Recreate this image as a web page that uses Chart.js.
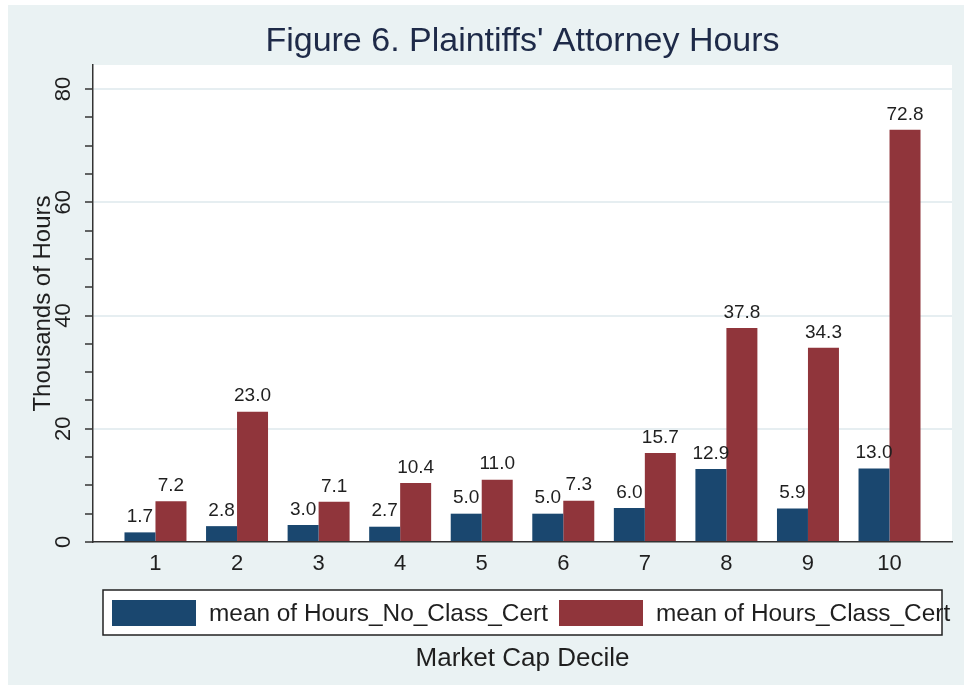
<!DOCTYPE html>
<html>
<head>
<meta charset="utf-8">
<title>Figure 6. Plaintiffs' Attorney Hours</title>
<script src="https://cdn.jsdelivr.net/npm/chart.js@4.4.1/dist/chart.umd.min.js"></script>
<style>
    html, body { margin: 0; padding: 0; background: #ffffff; }
    #wrap { width: 964px; height: 685px; }
</style>
</head>
<body>
<div id="wrap"><canvas id="chartByDecile"></canvas></div>
<script>
/**
 * Data
 */
const deciles = [1, 2, 3, 4, 5, 6, 7, 8, 9, 10];
const noClassCert = [1.7, 2.8, 3.0, 2.7, 5.0, 5.0, 6.0, 12.9, 5.9, 13.0];
const classCert = [7.2, 23.0, 7.1, 10.4, 11.0, 7.3, 15.7, 37.8, 34.3, 72.8];
const yTickValues = [0, 5, 10, 15, 20, 25, 30, 35, 40, 45, 50, 55, 60, 65, 70, 75, 80];
const yTickLabels = [0, 20, 40, 60, 80];
const seriesNames = ['mean of Hours_No_Class_Cert', 'mean of Hours_Class_Cert'];

/**
 * Look
 */
const FONT = "'Liberation Sans', Arial, sans-serif";
const BLUE = '#1a476f';
const RED = '#90353b';
const BACK = '#eaf2f3';
const INK = '#1f1f1f';

/**
 * Background, value labels, title, legend and x title
 */
const frame = {
    id: 'frame',
    beforeDraw(chart) {
        const { ctx, width, height, chartArea: a } = chart;
        ctx.save();
        ctx.fillStyle = '#ffffff';
        ctx.fillRect(0, 0, width, height);
        ctx.fillStyle = BACK;
        ctx.fillRect(8, 5, width - 8, height - 5);
        ctx.fillStyle = '#ffffff';
        ctx.fillRect(a.left, a.top, a.right - a.left, a.bottom - a.top);
        ctx.restore();
    },
    afterDatasetsDraw(chart) {
        const { ctx } = chart;
        ctx.save();
        ctx.font = '19px ' + FONT;
        ctx.fillStyle = INK;
        ctx.textAlign = 'center';
        ctx.textBaseline = 'bottom';
        chart.data.datasets.forEach((ds, i) => {
            chart.getDatasetMeta(i).data.forEach((bar, j) => {
                ctx.fillText(ds.data[j].y.toFixed(1), bar.x, bar.y - 6);
            });
        });
        ctx.restore();
    },
    afterDraw(chart) {
        const { ctx, chartArea: a } = chart;
        const cx = (a.left + a.right) / 2;
        ctx.save();

        // title
        ctx.font = '34px ' + FONT;
        ctx.fillStyle = '#1e2a48';
        ctx.textAlign = 'center';
        ctx.textBaseline = 'alphabetic';
        ctx.fillText("Figure 6. Plaintiffs' Attorney Hours", cx, 51);

        // legend box
        const left = cx - 419.5;
        ctx.fillStyle = '#ffffff';
        ctx.fillRect(left, 590, 839, 45);
        ctx.strokeStyle = '#222222';
        ctx.lineWidth = 1.5;
        ctx.strokeRect(left, 590, 839, 45);

        ctx.font = '24.4px ' + FONT;
        ctx.textAlign = 'left';
        ctx.textBaseline = 'middle';
        [BLUE, RED].forEach((color, i) => {
            const x = left + (i === 0 ? 9 : 456);
            ctx.fillStyle = color;
            ctx.fillRect(x, 600, 84, 26);
            ctx.fillStyle = INK;
            ctx.fillText(seriesNames[i], x + 97, 614);
        });

        // x title
        ctx.font = '26px ' + FONT;
        ctx.textAlign = 'center';
        ctx.fillStyle = INK;
        ctx.fillText('Market Cap Decile', cx, 659);
        ctx.restore();
    }
};

/**
 * Chart
 */
new Chart(document.getElementById('chartByDecile'), {
    type: 'bar',
    data: {
        datasets: [
            {
                label: seriesNames[0],
                backgroundColor: BLUE,
                data: deciles.map((d, i) => ({ x: d, y: noClassCert[i] }))
            },
            {
                label: seriesNames[1],
                backgroundColor: RED,
                data: deciles.map((d, i) => ({ x: d, y: classCert[i] }))
            }
        ]
    },
    options: {
        responsive: true,
        maintainAspectRatio: false,
        animation: false,
        categoryPercentage: 0.76,
        barPercentage: 1.0,
        layout: {
            padding: { top: 65, right: 12, bottom: 107, left: 31 }
        },
        plugins: {
            legend: { display: false },
            tooltip: { enabled: false },
            title: { display: false }
        },
        scales: {
            x: {
                type: 'linear',
                offset: false,
                min: 0.234,
                max: 10.766,
                afterBuildTicks: (axis) => {
                    axis.ticks = deciles.map(v => ({ value: v }));
                },
                afterFit: (axis) => { axis.height = 36; },
                grid: { display: false, drawTicks: false, offset: false },
                border: { display: true, color: '#333333', width: 1.5 },
                ticks: {
                    padding: 9,
                    maxRotation: 0,
                    color: INK,
                    font: { family: FONT, size: 22 },
                    callback: (v) => String(v)
                }
            },
            y: {
                min: 0,
                max: 84.24,
                afterBuildTicks: (axis) => {
                    axis.ticks = yTickValues.map(v => ({ value: v }));
                },
                afterFit: (axis) => { axis.width = 62; },
                grid: {
                    color: (c) => (c.tick && c.tick.value > 0 && yTickLabels.includes(c.tick.value)) ? '#e6eef1' : 'rgba(0,0,0,0)',
                    lineWidth: 2,
                    tickColor: '#333333',
                    tickWidth: 1.5,
                    tickLength: 8
                },
                border: { display: true, color: '#333333', width: 1.5 },
                ticks: {
                    padding: 9,
                    color: INK,
                    minRotation: 90,
                    maxRotation: 90,
                    crossAlign: 'center',
                    font: { family: FONT, size: 22 },
                    callback: (v) => yTickLabels.includes(v) ? String(v) : ''
                },
                title: {
                    display: true,
                    text: 'Thousands of Hours',
                    color: INK,
                    font: { family: FONT, size: 24, lineHeight: 1 },
                    padding: { top: 0, bottom: 0 }
                }
            }
        }
    },
    plugins: [frame]
});
</script>
</body>
</html>
